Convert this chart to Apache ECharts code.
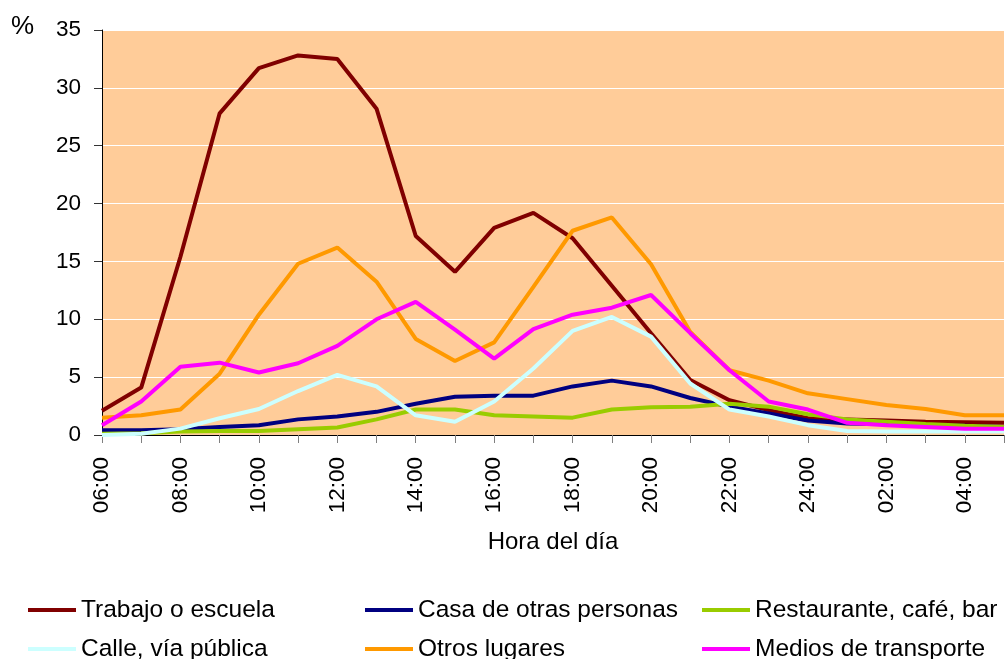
<!DOCTYPE html>
<html>
<head>
<meta charset="utf-8">
<script src="https://cdn.jsdelivr.net/npm/echarts@6/dist/echarts.min.js"></script>
<style>
  html, body { margin: 0; padding: 0; background: #fff; }
  #chart { width: 1005px; height: 659px; }
</style>
</head>
<body>
<div id="chart"></div>
<script>
// horas del día (06:00 -> 05:00)
var horas = ['06:00', '07:00', '08:00', '09:00', '10:00', '11:00', '12:00', '13:00',
  '14:00', '15:00', '16:00', '17:00', '18:00', '19:00', '20:00', '21:00',
  '22:00', '23:00', '24:00', '01:00', '02:00', '03:00', '04:00', '05:00']

// porcentajes por lugar
var trabajo = [2.1, 4.1, 15.4, 27.8, 31.7, 32.8, 32.5, 28.2, 17.2, 14.1, 17.9, 19.2,
  17.0, 12.9, 8.8, 4.75, 3.0, 2.15, 1.45, 1.35, 1.25, 1.15, 1.1, 1.05]
var casa = [0.4, 0.4, 0.5, 0.7, 0.85, 1.35, 1.6, 2.0, 2.7, 3.3, 3.4, 3.4,
  4.2, 4.7, 4.2, 3.2, 2.45, 1.85, 1.25, 1.0, 0.95, 0.85, 0.8, 0.7]
var restaurante = [0.1, 0.15, 0.3, 0.35, 0.35, 0.5, 0.65, 1.35, 2.2, 2.2, 1.7, 1.6,
  1.5, 2.2, 2.4, 2.45, 2.7, 2.45, 1.8, 1.35, 1.15, 0.95, 0.8, 0.7]
var calle = [0.0, 0.1, 0.55, 1.45, 2.25, 3.8, 5.2, 4.2, 1.7, 1.15, 2.9, 5.75,
  9.0, 10.2, 8.5, 4.45, 2.2, 1.6, 0.85, 0.35, 0.3, 0.3, 0.3, 0.3]
var otros = [1.5, 1.7, 2.2, 5.3, 10.4, 14.8, 16.2, 13.25, 8.3, 6.4, 8.0, 12.8,
  17.65, 18.8, 14.75, 8.9, 5.6, 4.7, 3.6, 3.1, 2.6, 2.25, 1.7, 1.7]
var transporte = [0.85, 2.9, 5.9, 6.25, 5.4, 6.2, 7.7, 10.0, 11.5, 9.1, 6.6, 9.15,
  10.4, 11.0, 12.1, 8.8, 5.6, 2.9, 2.2, 1.05, 0.85, 0.7, 0.55, 0.55]

var nombres = ['Trabajo o escuela', 'Casa de otras personas', 'Restaurante, café, bar',
  'Calle, vía pública', 'Otros lugares', 'Medios de transporte']
var colores = ['#800000', '#000080', '#99CC00', '#CCFFFF', '#FF9900', '#FF00FF']
var datos = [trabajo, casa, restaurante, calle, otros, transporte]

var fuente = 'Liberation Sans, Arial, sans-serif'

var series = []
for (var i = 0; i < datos.length; i++) {
  series.push({
    name: nombres[i],
    type: 'line',
    data: datos[i],
    color: colores[i],
    showSymbol: false,
    symbol: 'none',
    lineStyle: { width: 4, color: colores[i] },
    emphasis: { disabled: true }
  })
}

// una leyenda por elemento: 3 columnas x 2 filas
var colLeft = [28, 365, 702]
var rowTop = [596, 635]
var legends = []
for (var k = 0; k < nombres.length; k++) {
  legends.push({
    left: colLeft[k % 3],
    top: rowTop[Math.floor(k / 3)],
    itemWidth: 48,
    itemHeight: 4,
    icon: 'rect',
    padding: 0,
    data: [nombres[k]],
    textStyle: { fontFamily: fuente, fontSize: 24.5, color: '#000', lineHeight: 28 }
  })
}

var myChart = echarts.init(document.getElementById('chart'))
myChart.setOption({
  animation: false,
  backgroundColor: '#fff',
  grid: {
    left: 102,
    right: 1,
    top: 30,
    bottom: 224,
    show: true,
    backgroundColor: '#FFCC99',
    borderWidth: 0
  },
  legend: legends,
  graphic: [{
    type: 'text',
    left: 11,
    top: 14,
    style: { text: '%', font: '26px ' + fuente, fill: '#000' }
  }],
  xAxis: {
    type: 'category',
    data: horas,
    boundaryGap: false,
    name: 'Hora del día',
    nameLocation: 'middle',
    nameGap: 95,
    nameTextStyle: { fontFamily: fuente, fontSize: 24, color: '#000' },
    axisLine: { lineStyle: { color: '#000', width: 1 } },
    axisTick: { interval: 0, length: 8, lineStyle: { color: '#808080' } },
    axisLabel: {
      interval: 1,
      rotate: 90,
      margin: 22,
      fontFamily: fuente,
      fontSize: 22.5,
      color: '#000'
    },
    splitLine: { show: false }
  },
  yAxis: {
    type: 'value',
    min: 0,
    max: 35,
    interval: 5,
    axisLine: { show: true, lineStyle: { color: '#000', width: 1 } },
    axisTick: { show: true, length: 8, lineStyle: { color: '#333' } },
    axisLabel: { margin: 21, fontFamily: fuente, fontSize: 22.5, color: '#000' },
    splitLine: { lineStyle: { color: '#fff', width: 1 } }
  },
  series: series
})
</script>
</body>
</html>
